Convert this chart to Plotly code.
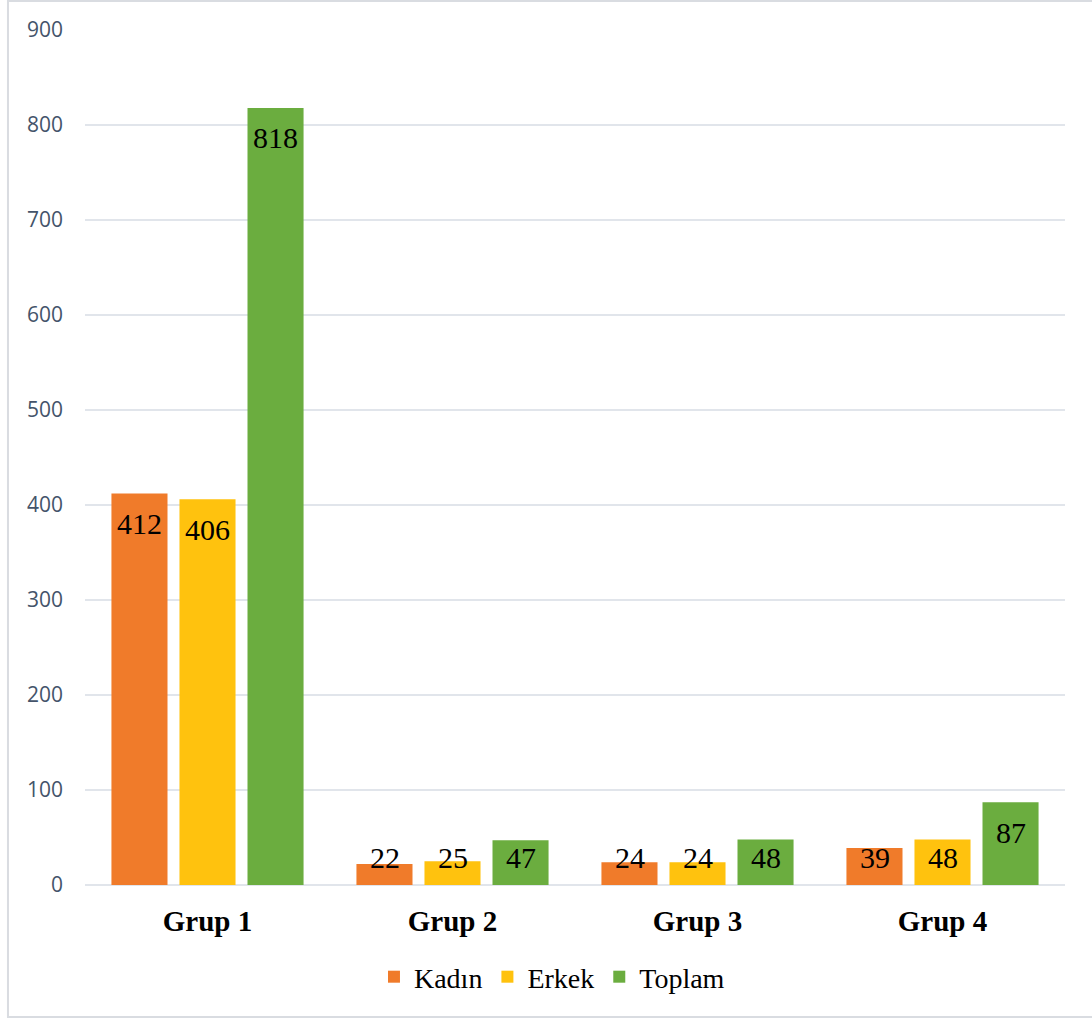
import plotly.graph_objects as go

categories = ["Grup 1", "Grup 2", "Grup 3", "Grup 4"]
kadin = [412, 22, 24, 39]
erkek = [406, 25, 24, 48]
toplam = [818, 47, 48, 87]
series_names = ["Kadın", "Erkek", "Toplam"]
series_values = [kadin, erkek, toplam]
colors = ["#F07B2A", "#FFC20E", "#6BAD3F"]
y_ticks = [0, 100, 200, 300, 400, 500, 600, 700, 800, 900]

fig = go.Figure()
for name, vals, col in zip(series_names, series_values, colors):
    fig.add_trace(go.Bar(
        x=categories, y=vals, name=name,
        marker=dict(color=col, line=dict(width=0)),
    ))

# data labels (Excel "inside end", clamped so small bars keep label above axis)
offsets = [-68, 0, 68]
annotations = []
for vals, dx in zip(series_values, offsets):
    for c, v in zip(categories, vals):
        annotations.append(dict(
            x=c, y=max(v - 31.5, 28.5), text=str(v), showarrow=False,
            xshift=dx, yanchor="middle", xanchor="center",
            font=dict(family="Liberation Serif", size=30, color="#000000"),
        ))

fig.update_layout(
    width=1092, height=1021,
    margin=dict(l=85, r=27, t=30, b=136),
    paper_bgcolor="white", plot_bgcolor="white",
    barmode="group", bargap=0.167, bargroupgap=0.176,
    showlegend=True,
    legend=dict(orientation="h", x=0.4765, xanchor="center", y=-0.1076, yanchor="middle",
                font=dict(family="Liberation Serif", size=28, color="#000000"),
                itemwidth=30, tracegroupgap=0),
    annotations=annotations,
    shapes=[dict(type="rect", xref="paper", yref="paper",
                 x0=-0.0786, x1=1.2, y0=-0.1544, y1=1.0339,
                 line=dict(color="#D9DCE1", width=2), fillcolor="rgba(0,0,0,0)", layer="below")],
)
fig.update_yaxes(range=[0, 900], tickvals=y_ticks, showgrid=True, gridcolor="#E1E5EB", gridwidth=2,
                 zeroline=True, zerolinecolor="#E1E5EB", zerolinewidth=2, showline=False,
                 tickfont=dict(family="Open Sans", size=21, color="#44546A"), ticklabelstandoff=21)
fig.update_xaxes(showgrid=False, showline=False, ticks="",
                 tickfont=dict(family="Liberation Serif", size=29, color="#000000"),
                 ticklabelstandoff=16)
fig.update_xaxes(tickprefix="<b>", ticksuffix="</b>")

fig.write_html("out.html")
